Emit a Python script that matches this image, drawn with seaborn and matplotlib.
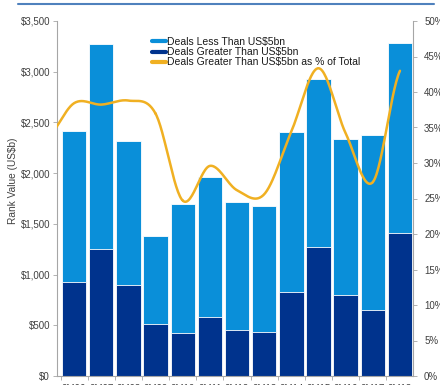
import numpy as np
import pandas as pd
import matplotlib
matplotlib.use("Agg")
import matplotlib.pyplot as plt
from matplotlib.lines import Line2D
from matplotlib.ticker import FuncFormatter, FixedLocator, NullFormatter
import seaborn as sns

# Nine-month periods
periods = ["9M06", "9M07", "9M08", "9M09", "9M10", "9M11", "9M12",
           "9M13", "9M14", "9M15", "9M16", "9M17", "9M18"]
# Rank value, US$b
deals_under_5bn = [1490, 2020, 1420, 870, 1280, 1380, 1270, 1250, 1580, 1660, 1540, 1730, 1870]
deals_over_5bn = [930, 1250, 900, 510, 420, 580, 450, 430, 830, 1270, 800, 650, 1410]
# share of the prior period, only the lead-in of the curve shows
share_9m05 = 33.5

left_ticks = [0, 500, 1000, 1500, 2000, 2500, 3000, 3500]
right_ticks = [0, 5, 10, 15, 20, 25, 30, 35, 40, 45, 50]

LIGHT = "#0A8FD9"
DARK = "#00338D"
GOLD = "#F0B022"
TXT = "#404040"
AXC = "#A6A6A6"

sns.set_theme(style="white")
plt.rcParams["font.family"] = ["Liberation Sans", "DejaVu Sans"]

df = pd.DataFrame({"period": periods,
                   "under": deals_under_5bn,
                   "over": deals_over_5bn})
df["total"] = df["under"] + df["over"]
df["share"] = df["over"] / df["total"] * 100

fig = plt.figure(figsize=(4.4, 3.85), dpi=100)
ax = fig.add_axes([57 / 440, 9 / 385, 356 / 440, 355 / 385])

sns.barplot(data=df, x="period", y="total", color=LIGHT, saturation=1,
            width=0.9, edgecolor="white", linewidth=0.6, ax=ax)
sns.barplot(data=df, x="period", y="over", color=DARK, saturation=1,
            width=0.9, edgecolor="white", linewidth=0.6, ax=ax)

ax.set_xlim(-0.63, 12.48)
ax.set_ylim(0, 3500)
ax.set_yticks(left_ticks)
ax.yaxis.set_major_formatter(FuncFormatter(lambda v, p: f"${v:,.0f}"))
ax.set_xlabel("")
ax.set_ylabel("Rank Value (US$b)", fontsize=7.3, color=TXT)
ax.yaxis.set_label_coords(-0.11, 0.55)

ax.xaxis.set_minor_locator(FixedLocator(np.arange(-0.5, 12.6, 1.0)))
ax.xaxis.set_minor_formatter(NullFormatter())
ax.tick_params(axis="x", which="major", length=0, pad=6, labelsize=7, labelcolor=TXT)
ax.tick_params(axis="x", which="minor", length=3, width=0.6, color=AXC, direction="out", bottom=True)
ax.tick_params(axis="y", length=3, width=0.6, color=AXC, pad=2, labelsize=7,
               labelcolor=TXT, left=True)

for side in ["top", "right"]:
    ax.spines[side].set_visible(False)
for side in ["left", "bottom"]:
    ax.spines[side].set_color(AXC)
    ax.spines[side].set_linewidth(0.8)

# secondary axis: share of large deals, smoothed curve (Catmull-Rom)
ax2 = ax.twinx()
xs = np.arange(-1, len(periods))
ys = np.array([share_9m05] + list(df["share"]))
pts = np.concatenate([[ys[0]], ys, [ys[-1]]])
cx, cy = [], []
for i in range(len(ys) - 1):
    p0, p1, p2, p3 = pts[i], pts[i + 1], pts[i + 2], pts[i + 3]
    t = np.linspace(0, 1, 30)
    seg = 0.5 * (2 * p1 + (-p0 + p2) * t + (2 * p0 - 5 * p1 + 4 * p2 - p3) * t ** 2
                 + (-p0 + 3 * p1 - 3 * p2 + p3) * t ** 3)
    cx.extend(xs[i] + t)
    cy.extend(seg)
ax2.plot(cx, cy, color=GOLD, lw=1.8, solid_capstyle="round")
ax2.set_xlim(-0.63, 12.48)
ax2.set_ylim(0, 50)
ax2.set_yticks(right_ticks)
ax2.yaxis.set_major_formatter(FuncFormatter(lambda v, p: f"{v:.0f}%"))
ax2.tick_params(axis="y", length=3, width=0.6, color=AXC, pad=5, labelsize=7,
                labelcolor=TXT, right=True)
for side in ["top", "left", "bottom"]:
    ax2.spines[side].set_visible(False)
ax2.spines["right"].set_color(AXC)
ax2.spines["right"].set_linewidth(0.8)
ax2.grid(False)
ax.grid(False)

handles = [Line2D([], [], color=LIGHT, lw=3),
           Line2D([], [], color=DARK, lw=3),
           Line2D([], [], color=GOLD, lw=3)]
labels = ["Deals Less Than US$5bn", "Deals Greater Than US$5bn",
          "Deals Greater Than US$5bn as % of Total"]
leg = fig.legend(handles, labels, loc="upper left",
                 bbox_to_anchor=(152 / 440, 1 - 37 / 385),
                 frameon=False, fontsize=7.5, handlelength=1.3, handletextpad=0.15,
                 labelspacing=0.02, borderpad=0, borderaxespad=0)
for t in leg.get_texts():
    t.set_color("#1a1a1a")

# rule under the (clipped) header
fig.add_artist(Line2D([18 / 440, 434 / 440], [1 - 4 / 385, 1 - 4 / 385],
                      color="#4F81BD", lw=1.5, transform=fig.transFigure))

fig.savefig("out.png", dpi=100)
